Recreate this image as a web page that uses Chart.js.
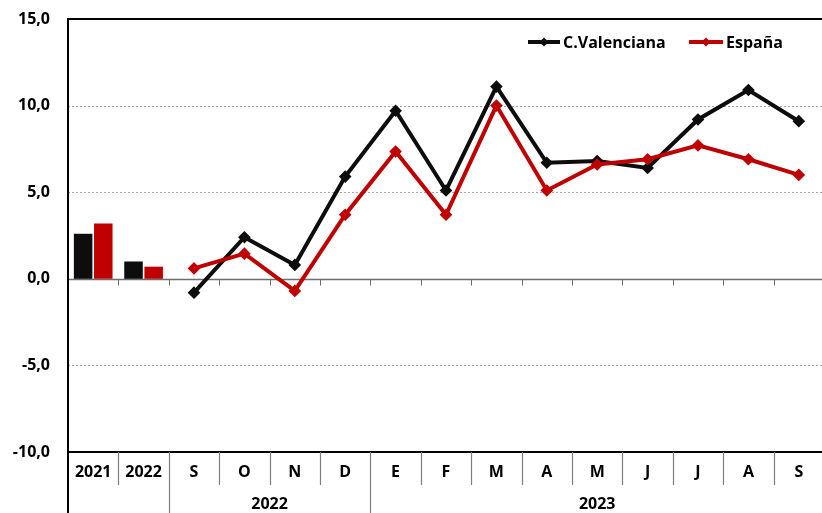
<!DOCTYPE html>
<html>
<head>
<meta charset="utf-8">
<script src="https://cdn.jsdelivr.net/npm/chart.js@4.4.0/dist/chart.umd.min.js"></script>
<style>
  html, body { margin: 0; padding: 0; background: #fff; overflow: hidden; }
  #wrap { width: 832px; height: 513px; position: relative; }
</style>
</head>
<body>
<div id="wrap"><canvas id="ipcChart"></canvas></div>
<script>
// Data
const categories = ['2021', '2022', 'S', 'O', 'N', 'D', 'E', 'F', 'M', 'A', 'M', 'J', 'J', 'A', 'S'];
const periodYears = [null, null, '2022', '2022', '2022', '2022', '2023', '2023', '2023', '2023', '2023', '2023', '2023', '2023', '2023'];
const annualValenciana = [2.6, 1.0];
const annualEspana = [3.2, 0.7];
const monthlyValenciana = [-0.8, 2.4, 0.8, 5.9, 9.7, 5.1, 11.1, 6.7, 6.8, 6.4, 9.2, 10.9, 9.1];
const monthlyEspana = [0.6, 1.45, -0.7, 3.7, 7.35, 3.7, 10.0, 5.1, 6.6, 6.9, 7.7, 6.9, 6.0];
const yTicks = [-10, -5, 0, 5, 10, 15];
const seriesNames = ['C.Valenciana', 'España'];

const BLACK = '#0d0d0d';
const RED = '#c00000';
const FONT = "'Open Sans', 'Liberation Sans', sans-serif";

const nAnnual = annualValenciana.length;
const pad = (arr, before, total) => {
    const out = new Array(before).fill(null).concat(arr);
    while (out.length < total) out.push(null);
    return out;
};

// Frame, grid, separators, category rows and legend
const decorPlugin = {
    id: 'decor',
    beforeDatasetsDraw(chart) {
        const ctx = chart.ctx;
        const area = chart.chartArea;
        const y = chart.scales.y;
        ctx.save();
        // dotted grid
        ctx.strokeStyle = '#a6a6a6';
        ctx.lineWidth = 1;
        ctx.setLineDash([2, 2]);
        yTicks.forEach(v => {
            if (v === 0 || v === yTicks[0] || v === yTicks[yTicks.length - 1]) return;
            const py = Math.round(y.getPixelForValue(v)) + 0.5;
            ctx.beginPath();
            ctx.moveTo(area.left, py);
            ctx.lineTo(area.right, py);
            ctx.stroke();
        });
        ctx.setLineDash([]);
        // zero line with ticks
        const zy = Math.round(y.getPixelForValue(0)) + 0.5;
        ctx.strokeStyle = '#6e6e6e';
        ctx.lineWidth = 1.5;
        ctx.beginPath();
        ctx.moveTo(area.left, zy);
        ctx.lineTo(area.right, zy);
        ctx.stroke();
        const x = chart.scales.x;
        const half = (x.getPixelForValue(1) - x.getPixelForValue(0)) / 2;
        ctx.lineWidth = 1;
        for (let i = 1; i < categories.length; i++) {
            const px = Math.round(x.getPixelForValue(i) - half) + 0.5;
            ctx.beginPath();
            ctx.moveTo(px, zy);
            ctx.lineTo(px, zy + 6);
            ctx.stroke();
        }
        ctx.restore();
    },
    afterDatasetsDraw(chart) {
        const ctx = chart.ctx;
        const area = chart.chartArea;
        const x = chart.scales.x;
        const half = (x.getPixelForValue(1) - x.getPixelForValue(0)) / 2;
        const H = chart.height;
        ctx.save();
        // frame
        ctx.strokeStyle = '#000';
        ctx.lineWidth = 2;
        ctx.beginPath();
        ctx.moveTo(area.right + 2, area.top);
        ctx.lineTo(area.left, area.top);
        ctx.lineTo(area.left, H);
        ctx.moveTo(area.left, area.bottom);
        ctx.lineTo(area.right + 2, area.bottom);
        ctx.stroke();

        // category separators
        ctx.strokeStyle = '#7f7f7f';
        ctx.lineWidth = 1.2;
        for (let i = 1; i < categories.length; i++) {
            const px = Math.round(x.getPixelForValue(i) - half) + 0.5;
            const yearBreak = periodYears[i] !== periodYears[i - 1];
            ctx.beginPath();
            ctx.moveTo(px, area.bottom);
            ctx.lineTo(px, yearBreak ? H : area.bottom + 33);
            ctx.stroke();
        }

        // category labels
        ctx.fillStyle = '#000';
        ctx.font = 'bold 16px ' + FONT;
        ctx.textAlign = 'center';
        ctx.textBaseline = 'middle';
        categories.forEach((c, i) => {
            ctx.fillText(c, x.getPixelForValue(i), area.bottom + 20);
        });

        // year group labels
        let start = 0;
        for (let i = 1; i <= periodYears.length; i++) {
            if (i === periodYears.length || periodYears[i] !== periodYears[start]) {
                if (periodYears[start]) {
                    const cx = (x.getPixelForValue(start) + x.getPixelForValue(i - 1)) / 2;
                    ctx.fillText(periodYears[start], cx, area.bottom + 52);
                }
                start = i;
            }
        }

        // legend
        const legendItems = [
            { name: seriesNames[0], color: BLACK, x0: 528, w: 32 },
            { name: seriesNames[1], color: RED, x0: 689, w: 34 }
        ];
        const ly = 42;
        legendItems.forEach(item => {
            ctx.strokeStyle = item.color;
            ctx.lineWidth = 4;
            ctx.beginPath();
            ctx.moveTo(item.x0, ly);
            ctx.lineTo(item.x0 + item.w, ly);
            ctx.stroke();
            const mx = item.x0 + item.w / 2;
            ctx.fillStyle = item.color;
            ctx.beginPath();
            ctx.moveTo(mx, ly - 4.5);
            ctx.lineTo(mx + 4.5, ly);
            ctx.lineTo(mx, ly + 4.5);
            ctx.lineTo(mx - 4.5, ly);
            ctx.closePath();
            ctx.fill();
            ctx.fillStyle = '#000';
            ctx.font = 'bold 16px ' + FONT;
            ctx.textAlign = 'left';
            ctx.fillText(item.name, item.x0 + item.w + 3, ly + 1);
        });
        ctx.restore();
    }
};

const total = categories.length;
const lineStyle = color => ({
    type: 'line',
    borderColor: color,
    backgroundColor: color,
    borderWidth: 4,
    pointStyle: 'rectRot',
    pointRadius: 3.5,
    pointBackgroundColor: color,
    pointBorderColor: color,
    tension: 0,
    spanGaps: false
});

new Chart(document.getElementById('ipcChart'), {
    type: 'bar',
    data: {
        labels: categories,
        datasets: [
            { label: seriesNames[0], data: pad(annualValenciana, 0, total), backgroundColor: BLACK, categoryPercentage: 0.8, barPercentage: 0.92, order: 2 },
            { label: seriesNames[1], data: pad(annualEspana, 0, total), backgroundColor: RED, categoryPercentage: 0.8, barPercentage: 0.92, order: 2 },
            Object.assign({ label: seriesNames[0], data: pad(monthlyValenciana, nAnnual, total), order: 1 }, lineStyle(BLACK)),
            Object.assign({ label: seriesNames[1], data: pad(monthlyEspana, nAnnual, total), order: 0 }, lineStyle(RED))
        ]
    },
    options: {
        responsive: true,
        maintainAspectRatio: false,
        animation: false,
        layout: { padding: { top: 19, bottom: 61, right: 2, left: 0 } },
        plugins: {
            legend: { display: false },
            tooltip: { enabled: false }
        },
        scales: {
            x: { display: false },
            y: {
                min: -10,
                max: 15,
                afterBuildTicks: scale => { scale.ticks = yTicks.map(v => ({ value: v })); },
                afterFit: scale => {
                    scale.width = 68;
                    scale.paddingTop = 0;
                    scale.paddingBottom = 0;
                },
                grid: { display: false, drawTicks: false },
                border: { display: false },
                ticks: {
                    padding: 18,
                    color: '#000',
                    font: { family: FONT, size: 16, weight: 'bold' },
                    callback: v => v.toFixed(1).replace('.', ',')
                }
            }
        }
    },
    plugins: [decorPlugin]
});
</script>
</body>
</html>
